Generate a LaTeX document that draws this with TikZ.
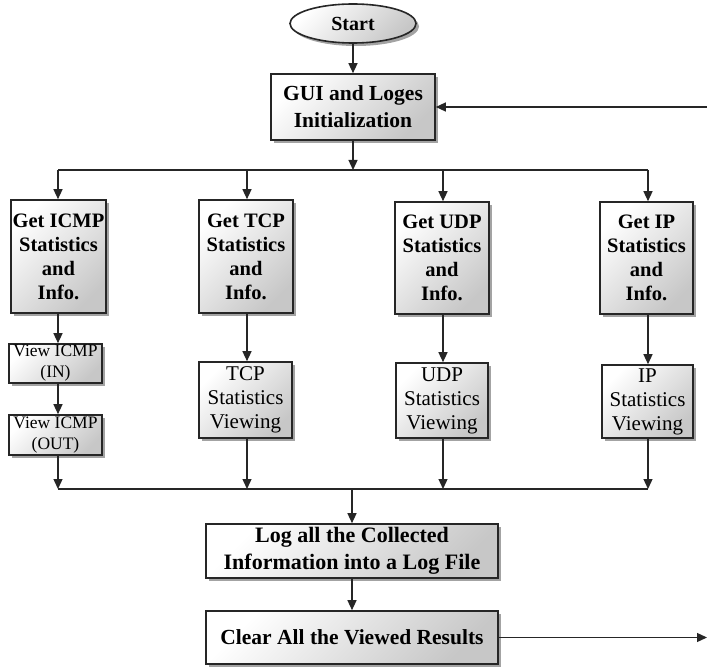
\documentclass[tikz,border=0pt]{standalone}
\usepackage{fontspec}
\setmainfont{Liberation Serif}
\usetikzlibrary{shadows,shapes.geometric,arrows.meta}

\tikzset{
  base/.style={draw=black!85, line width=1.6pt, inner sep=0pt, align=center,
    shading=axis, top color=white, bottom color=black!22, shading angle=45,
    drop shadow={shadow xshift=3pt, shadow yshift=-3pt, fill=black!60, opacity=0.6}},
  procbox/.style={base, rectangle},
  bigtxt/.style={font=\fontsize{20.5}{24}\selectfont\bfseries},
  smalltxt/.style={font=\fontsize{17.5}{21}\selectfont},
  viewtxt/.style={font=\fontsize{21}{24}\selectfont},
  flow/.style={line width=1.3pt, draw=black!85, -{Triangle[length=10pt,width=9pt]}},
  wire/.style={line width=1.3pt, draw=black!85}
}

\begin{document}
\begin{tikzpicture}[x=1pt, y=-1pt]
  \useasboundingbox (0,0) rectangle (707,668);

  % start terminal and initialisation
  \node[base, ellipse, minimum width=126pt, minimum height=39pt,
        font=\fontsize{20}{22}\selectfont\bfseries] (start) at (353,23.5) {Start};
  \node[procbox, font=\fontsize{21.5}{27}\selectfont\bfseries,
        minimum width=164pt, minimum height=66pt] (gui) at (353,107)
        {GUI and Loges\\Initialization};

  % four statistics columns
  \node[procbox, bigtxt, minimum width=95pt, minimum height=113pt] (icmp) at (58.5,256.5)
        {Get ICMP\\Statistics\\and\\Info.};
  \node[procbox, bigtxt, minimum width=94pt, minimum height=113pt] (tcp) at (246,256.5)
        {Get TCP\\Statistics\\and\\Info.};
  \node[procbox, bigtxt, minimum width=94pt, minimum height=112pt] (udp) at (442,258)
        {Get UDP\\Statistics\\and\\Info.};
  \node[procbox, bigtxt, minimum width=93pt, minimum height=112pt] (ip) at (646.5,258)
        {Get IP\\Statistics\\and\\Info.};

  % viewing steps
  \node[procbox, smalltxt, minimum width=93pt, minimum height=39pt] (vin) at (55.5,363.5)
        {View ICMP\\(IN)};
  \node[procbox, smalltxt, minimum width=93pt, minimum height=40pt] (vout) at (55.5,435)
        {View ICMP\\(OUT)};
  \node[procbox, viewtxt, minimum width=93pt, minimum height=76pt] (tcpv) at (245.5,400)
        {TCP\\Statistics\\Viewing};
  \node[procbox, viewtxt, minimum width=92pt, minimum height=75pt] (udpv) at (442,400.5)
        {UDP\\Statistics\\Viewing};
  \node[procbox, viewtxt, minimum width=91pt, minimum height=73pt] (ipv) at (647.5,401.5)
        {IP\\Statistics\\Viewing};

  % logging and cleanup
  \node[procbox, font=\fontsize{22}{27}\selectfont\bfseries,
        minimum width=292pt, minimum height=54pt] (log) at (352,551)
        {Log all the Collected\\Information into a Log File};
  \node[procbox, font=\fontsize{21.5}{27}\selectfont\bfseries,
        minimum width=292pt, minimum height=53pt] (clear) at (352,637.5)
        {Clear All the Viewed Results};

  % bus coordinates
  \coordinate (topbus) at (353,170);
  \coordinate (tbL) at (58,170);
  \coordinate (tbA) at (247,170);
  \coordinate (tbB) at (443,170);
  \coordinate (tbR) at (648,170);
  \coordinate (botbus) at (352,489);
  \coordinate (bbL) at (58,489);
  \coordinate (bbA) at (247,489);
  \coordinate (bbB) at (443,489);
  \coordinate (bbR) at (648,489);
  \coordinate (loopin) at (707,107);
  \coordinate (loopout) at (707,637.5);

  % connectors
  \draw[flow] (start) -- (gui);
  \draw[flow] (gui) -- (topbus);
  \draw[wire] (tbL) -- (tbR);
  \draw[flow] (tbL) -- (tbL |- icmp.north);
  \draw[flow] (tbA) -- (tbA |- tcp.north);
  \draw[flow] (tbB) -- (tbB |- udp.north);
  \draw[flow] (tbR) -- (tbR |- ip.north);

  \draw[flow] (tbL |- icmp.south) -- (tbL |- vin.north);
  \draw[flow] (tbL |- vin.south) -- (tbL |- vout.north);
  \draw[flow] (tbA |- tcp.south) -- (tbA |- tcpv.north);
  \draw[flow] (tbB |- udp.south) -- (tbB |- udpv.north);
  \draw[flow] (tbR |- ip.south) -- (tbR |- ipv.north);

  \draw[flow] (bbL |- vout.south) -- (bbL);
  \draw[flow] (bbA |- tcpv.south) -- (bbA);
  \draw[flow] (bbB |- udpv.south) -- (bbB);
  \draw[flow] (bbR |- ipv.south) -- (bbR);
  \draw[wire] (bbL) -- (bbR);
  \draw[flow] (botbus) -- (log);
  \draw[flow] (log) -- (clear);

  \draw[flow] (clear) -- (loopout);
  \draw[flow] (loopin) -- (gui);
\end{tikzpicture}
\end{document}
